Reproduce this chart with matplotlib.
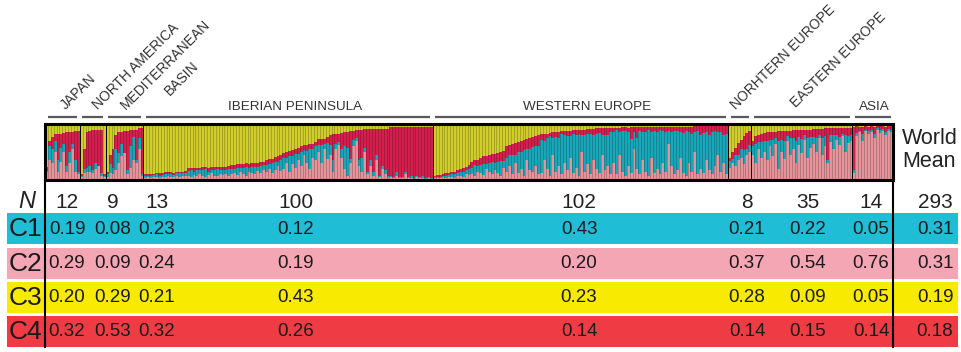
import matplotlib.pyplot as plt
import matplotlib.patches as mpatches
import numpy as np

plt.rcParams['font.family'] = ['Liberation Sans', 'DejaVu Sans']

# Population groups, in plotting order
groups = ['JAPAN', 'NORTH AMERICA', 'MEDITERRANEAN\nBASIN', 'IBERIAN PENINSULA',
          'WESTERN EUROPE', 'NORHTERN EUROPE', 'EASTERN EUROPE', 'ASIA']
group_n = [12, 9, 13, 100, 102, 8, 35, 14]
total_n = 293

# Per-individual membership (%) for each cluster; C3 (yellow) is the remainder
c2_pink = [
    # Japan
    14, 36, 30, 50, 15, 33, 50, 15, 30, 55, 15, 10,
    # North America
    5, 12, 15, 15, 12, 20, 25, 8, 5,
    # Mediterranean basin
    6, 12, 10, 18, 30, 42, 48, 10, 22, 35, 30, 55, 8,
    # Iberian peninsula
    4, 5, 4, 6, 5, 4, 6, 5, 7, 5, 6, 8, 6, 7, 8,
    8, 6, 9, 7, 10, 8, 6, 9, 12, 8, 7, 10, 9, 11, 8,
    10, 12, 9, 15, 11, 8, 14, 12, 10, 16, 13, 18,
    15, 20, 12, 18, 25, 16,
    20, 30, 15, 28, 22, 35,
    25, 45, 30, 20, 40, 35,
    50, 30, 55, 38, 45,
    15, 55, 62, 40, 20, 8, 30, 60, 70, 25,
    15, 50, 10, 25, 8, 35, 5, 20, 10, 4,
    5, 3, 8, 4, 3, 10, 4, 3, 2, 5, 3, 4, 2, 3, 2,
    # Western Europe
    3, 4, 3, 5, 4, 6, 5, 4, 7, 8, 6, 10, 9,
    10, 8, 15, 12, 9, 20, 14, 10, 18, 12, 8, 22,
    15, 25, 10, 30, 12, 20, 8, 35, 18, 14, 25, 10,
    12, 35, 20, 8, 45, 15, 25, 10, 30, 18, 40, 12, 22, 8, 50, 15, 28, 10, 35, 20,
    12, 45, 18, 25, 10,
    30, 10, 45, 15, 8, 25, 12, 55, 20, 10, 35, 15, 8, 40, 12, 20, 10, 30, 15, 65,
    25, 10, 18, 40, 12, 8, 30, 15, 50, 10, 20, 12, 35, 18, 10, 25, 45, 15, 30, 10,
    # Northern Europe
    22, 30, 25, 35, 40, 28, 45, 50,
    # Eastern Europe
    45, 30, 55, 40, 50, 35, 60, 42, 65, 20, 50, 38, 70, 45, 55, 30, 62, 48, 72, 40,
    58, 65, 50, 75, 45, 60, 30, 68, 55, 72, 62, 78, 50, 66, 70,
    # Asia
    12, 78, 85, 70, 88, 82, 86, 75, 90, 84, 88, 80, 87, 85,
]
c1_cyan = [
    2, 25, 25, 20, 20, 25, 15, 10, 20, 10, 20, 5,
    3, 8, 7, 10, 6, 10, 0, 4, 2,
    4, 16, 12, 37, 18, 23, 0, 8, 38, 42, 5, 20, 2,
    3, 2, 4, 3, 5, 4, 3, 6, 4, 5, 3, 4, 6, 5, 4,
    8, 12, 6, 10, 7, 9, 13, 6, 5, 10, 12, 7, 9, 6, 11,
    10, 8, 13, 6, 10, 15, 8, 11, 14, 7, 12, 8,
    12, 8, 18, 14, 8, 20,
    20, 10, 28, 15, 25, 12,
    25, 8, 22, 35, 15, 25,
    12, 32, 10, 28, 18,
    20, 10, 5, 15, 40, 50, 8, 12, 5, 10,
    25, 8, 5, 10, 6, 10, 3, 5, 8, 3,
    3, 2, 6, 2, 3, 5, 2, 4, 2, 3, 2, 3, 2, 2, 2,
    2, 2, 3, 2, 4, 3, 5, 6, 5, 6, 9, 7, 10,
    12, 18, 10, 15, 20, 8, 16, 22, 12, 20, 26, 12,
    25, 20, 35, 15, 38, 30, 45, 20, 38, 45, 35, 50,
    60, 35, 55, 70, 30, 62, 50, 72, 50, 60, 38, 70, 58, 75, 30, 65, 55, 72, 45, 62,
    72, 35, 62, 55, 75,
    55, 80, 40, 72, 80, 60, 62, 30, 55, 78, 50, 70, 82, 45, 75, 65, 80, 58, 70, 22,
    60, 78, 70, 45, 72, 80, 55, 68, 35, 78, 60, 72, 50, 62, 75, 62, 40, 70, 50, 72,
    12, 8, 20, 10, 15, 25, 10, 12,
    15, 35, 12, 28, 20, 35, 12, 30, 10, 50, 22, 32, 8, 30, 20, 40, 15, 25, 8, 35,
    18, 12, 25, 6, 30, 18, 5, 12, 25, 8, 15, 5, 30, 12, 10,
    6, 6, 3, 12, 2, 6, 4, 8, 2, 5, 3, 6, 4, 5,
]
c4_red = [
    7, 8, 22, 12, 48, 25, 19, 61, 36, 21, 52, 72,
    2, 35, 63, 63, 72, 60, 65, 78, 3,
    4, 17, 33, 25, 37, 21, 39, 70, 29, 13, 55, 17, 82,
    3, 3, 3, 2, 3, 4, 3, 3, 3, 4, 4, 3, 3, 3, 4,
    5, 4, 6, 5, 5, 6, 4, 7, 6, 5, 5, 6, 6, 7, 6,
    6, 7, 6, 7, 7, 7, 7, 7, 7, 7, 7, 6,
    8, 9, 8, 9, 9, 9,
    9, 10, 9, 10, 9, 10,
    11, 9, 10, 9, 10, 8,
    11, 11, 9, 10, 17,
    47, 18, 16, 29, 25, 28, 49, 16, 14, 55,
    50, 33, 76, 56, 77, 46, 83, 66, 73, 84,
    87, 90, 81, 89, 89, 80, 89, 88, 91, 87, 90, 88, 91, 90, 91,
    2, 3, 3, 4, 4, 4, 5, 5, 6, 6, 6, 6, 7,
    10, 10, 11, 12, 13, 14, 15, 14, 16, 16, 16, 18,
    20, 17, 19, 21, 17, 19, 18, 18, 19, 17, 18, 20,
    10, 13, 8, 6, 10, 8, 11, 5, 7, 10, 10, 7, 9, 7, 10, 10, 8, 9, 11, 10,
    8, 12, 12, 13, 8,
    8, 3, 8, 7, 6, 8, 20, 9, 19, 6, 9, 10, 5, 9, 8, 10, 5, 7, 10, 8,
    10, 7, 7, 10, 11, 7, 10, 12, 11, 8, 16, 12, 11, 16, 11, 9, 11, 11, 16, 14,
    6, 12, 13, 21, 17, 25, 29, 26,
    10, 13, 13, 14, 14, 15, 13, 14, 11, 17, 15, 18, 10, 13, 14, 19, 12, 17, 10, 15,
    14, 14, 16, 10, 16, 14, 57, 12, 12, 12, 16, 10, 13, 15, 13,
    77, 12, 7, 13, 6, 7, 6, 12, 4, 7, 5, 9, 5, 6,
]

# Mean membership per group (last column = world mean)
c1_mean = ['0.19', '0.08', '0.23', '0.12', '0.43', '0.21', '0.22', '0.05', '0.31']
c2_mean = ['0.29', '0.09', '0.24', '0.19', '0.20', '0.37', '0.54', '0.76', '0.31']
c3_mean = ['0.20', '0.29', '0.21', '0.43', '0.23', '0.28', '0.09', '0.05', '0.19']
c4_mean = ['0.32', '0.53', '0.32', '0.26', '0.14', '0.14', '0.15', '0.14', '0.18']

bar_colors = {'C2': '#e4939a', 'C1': '#18a6b8', 'C4': '#d51f4f', 'C3': '#cfcc2c'}
row_colors = ['#1fbdd6', '#f4a6b5', '#f8ea00', '#ee3b44']

W, H = 961, 352
fig = plt.figure(figsize=(W / 100, H / 100), dpi=100)

# overlay in pixel units for table, headers and frame lines
ov = fig.add_axes([0, 0, 1, 1], zorder=0)
ov.set_xlim(0, W)
ov.set_ylim(H, 0)
ov.axis('off')

box_l, box_r, box_t, box_b = 45, 893, 124, 180
ax = fig.add_axes([box_l / W, 1 - box_b / H, (box_r - box_l) / W, (box_b - box_t) / H], zorder=1)

pink = np.array(c2_pink) / 100
cyan = np.array(c1_cyan) / 100
red = np.array(c4_red) / 100
yellow = 1 - pink - cyan - red
x = np.arange(len(pink)) + 0.5

ax.bar(x, pink, width=1, color=bar_colors['C2'], linewidth=0)
ax.bar(x, cyan, width=1, bottom=pink, color=bar_colors['C1'], linewidth=0)
ax.bar(x, red, width=1, bottom=pink + cyan, color=bar_colors['C4'], linewidth=0)
ax.bar(x, yellow, width=1, bottom=pink + cyan + red, color=bar_colors['C3'], linewidth=0)
ax.vlines(np.arange(1, len(pink)), 0, 1, color='black', alpha=0.28, linewidth=0.5)

bounds = np.cumsum([0] + group_n)
ax.vlines(bounds[1:-1], 0, 1, color='black', linewidth=0.7)
ax.set_xlim(0, total_n)
ax.set_ylim(0, 1)
ax.set_xticks([])
ax.set_yticks([])
for s in ax.spines.values():
    s.set_linewidth(2.2)
    s.set_color('black')

px_per_bar = (box_r - box_l) / total_n

# header underlines over each group
for a, b in zip(bounds[:-1], bounds[1:]):
    ov.plot([box_l + a * px_per_bar + 2.5, box_l + b * px_per_bar - 2.5], [117, 117],
            color='#5a5a5a', linewidth=1.6, solid_capstyle='butt')

# group labels
hdr_color = '#333333'
hdr_fs = 9.7
rot_fs = 10
ov.text(66, 110, 'JAPAN', rotation=45, rotation_mode='anchor', ha='left', va='baseline',
        fontsize=rot_fs, color=hdr_color)
ov.text(98, 110, 'NORTH AMERICA', rotation=45, rotation_mode='anchor', ha='left',
        va='baseline', fontsize=rot_fs, color=hdr_color)
ov.text(126, 110, 'MEDITERRANEAN', rotation=45, rotation_mode='anchor', ha='left',
        va='baseline', fontsize=rot_fs, color=hdr_color)
ov.text(170, 96, 'BASIN', rotation=45, rotation_mode='anchor', ha='left',
        va='baseline', fontsize=rot_fs, color=hdr_color)
ov.text(295, 110, groups[3], ha='center', va='baseline', fontsize=hdr_fs, color=hdr_color)
ov.text(587, 110, groups[4], ha='center', va='baseline', fontsize=hdr_fs, color=hdr_color)
ov.text(736, 110, groups[5], rotation=45, rotation_mode='anchor', ha='left',
        va='baseline', fontsize=rot_fs, color=hdr_color)
ov.text(796, 108, groups[6], rotation=45, rotation_mode='anchor', ha='left',
        va='baseline', fontsize=rot_fs, color=hdr_color)
ov.text(874, 110, groups[7], ha='center', va='baseline', fontsize=hdr_fs, color=hdr_color)

ov.text(902, 150, 'World\nMean', ha='left', va='center', fontsize=15.5,
        color='#222222', linespacing=1.15)

# table bands
row_top = [213, 248, 282, 316]
row_h = 31
for top, col in zip(row_top, row_colors):
    ov.add_patch(mpatches.Rectangle((7, top), 951, row_h, facecolor=col,
                                    edgecolor='none', zorder=1))

# frame lines running down through the table
ov.plot([box_l, box_l], [box_b, 347], color='black', linewidth=1.5, zorder=3)
ov.plot([box_r, box_r], [box_b, 347], color='black', linewidth=1.5, zorder=3)

col_x = [67, 113, 157, 296, 579, 747, 808, 871, 935]
n_labels = [str(n) for n in group_n] + [str(total_n)]
ov.text(27, 202, 'N', style='italic', ha='center', va='center', fontsize=17, color='#222222')
for cx, s in zip(col_x, n_labels):
    ov.text(cx, 202, s, ha='center', va='center', fontsize=15, color='#222222')

rows = [('C1', c1_mean), ('C2', c2_mean), ('C3', c3_mean), ('C4', c4_mean)]
for top, (name, vals) in zip(row_top, rows):
    cy = top + row_h / 2 + 0.5
    ov.text(25, cy, name, ha='center', va='center', fontsize=19, color='#1a1a1a', zorder=4)
    for cx, v in zip(col_x, vals):
        ov.text(cx, cy, v, ha='center', va='center', fontsize=13.5, color='#1a1a1a', zorder=4)

plt.savefig('out.png', dpi=100, facecolor='white')
